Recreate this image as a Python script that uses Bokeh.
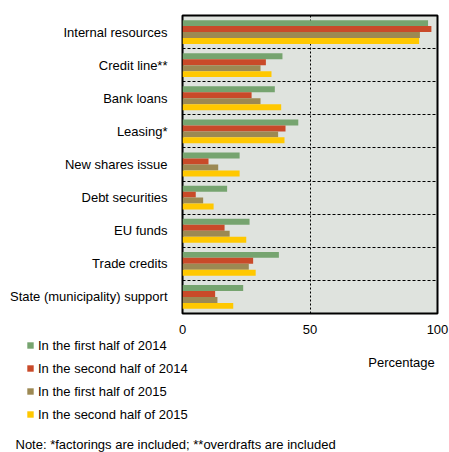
import numpy as np
from bokeh.plotting import figure
from bokeh.layouts import column
from bokeh.models import (Range1d, FixedTicker, Legend, LegendItem, Label, ColumnDataSource)
from bokeh.embed import file_html
from bokeh.resources import INLINE

categories = ["Internal resources", "Credit line**", "Bank loans", "Leasing*",
              "New shares issue", "Debt securities", "EU funds", "Trade credits",
              "State (municipality) support"]
series_names = ["In the first half of 2014", "In the second half of 2014",
                "In the first half of 2015", "In the second half of 2015"]
h1_2014 = [96.3, 39.2, 36.2, 45.4, 22.4, 17.5, 26.3, 37.8, 23.8]
h2_2014 = [97.6, 32.7, 27.1, 40.4, 10.2, 5.2, 16.5, 27.7, 12.8]
h1_2015 = [93.1, 30.6, 30.6, 37.5, 14.0, 8.1, 18.5, 26.0, 13.7]
h2_2015 = [92.8, 34.9, 38.7, 40.0, 22.4, 12.2, 25.0, 28.7, 19.9]
colors = ["#76a46f", "#c94a29", "#9c8953", "#ffc800"]
x_ticks = [0, 50, 100]

FONT = "Liberation Sans"
W = 449
H1, H2 = 339, 113
n = len(categories)
ypos = np.arange(n)[::-1].astype(float)  # first category at top
all_series = [h1_2014, h2_2014, h1_2015, h2_2015]
bh = 0.18
offsets = [1.5 * bh, 0.5 * bh, -0.5 * bh, -1.5 * bh]

# ---------------- main chart ----------------
p = figure(width=W, height=H1, output_backend="svg", toolbar_location=None,
           x_range=Range1d(0, 100), y_range=Range1d(-0.5, n - 0.5),
           min_border_left=182, min_border_right=12, min_border_top=15,
           min_border_bottom=26)
p.background_fill_color = "#dfe3de"
p.border_fill_color = "white"
p.outline_line_color = "black"
p.outline_line_width = 2

for vals, col, off in zip(all_series, colors, offsets):
    src = ColumnDataSource(dict(y=ypos + off, right=vals))
    p.hbar(y="y", left=0, right="right", height=bh, source=src,
           fill_color=col, line_color=None)

p.xaxis.ticker = FixedTicker(ticks=x_ticks)
p.yaxis.ticker = FixedTicker(ticks=list(ypos))
p.yaxis.major_label_overrides = {float(y): c for y, c in zip(ypos, categories)}
for ax in (p.xaxis[0], p.yaxis[0]):
    ax.axis_line_color = None
    ax.major_tick_line_color = None
    ax.minor_tick_line_color = None
    ax.major_tick_out = 0
    ax.major_tick_in = 0
    ax.major_label_text_font = FONT
    ax.major_label_text_font_size = "13px"
    ax.major_label_text_color = "black"
p.xaxis.major_label_standoff = 11
p.yaxis.major_label_standoff = 15

p.xgrid.ticker = FixedTicker(ticks=[50])
p.xgrid.grid_line_color = "black"
p.xgrid.grid_line_dash = "2 2"
p.xgrid.grid_line_width = 1
p.ygrid.ticker = FixedTicker(ticks=[float(i) + 0.5 for i in range(n - 1)])
p.ygrid.grid_line_color = "black"
p.ygrid.grid_line_dash = "3 2"
p.ygrid.grid_line_width = 1

# ---------------- legend / notes panel ----------------
q = figure(width=W, height=H2, output_backend="svg", toolbar_location=None,
           x_range=Range1d(0, 1), y_range=Range1d(0, 1),
           x_axis_location=None, y_axis_location=None,
           min_border_left=0, min_border_right=0, min_border_top=0, min_border_bottom=0)
q.outline_line_color = None
q.background_fill_color = "white"
q.border_fill_color = "white"
q.grid.visible = False
for fig in (p, q):
    if "frame_align" in fig.properties():
        fig.frame_align = False

proxies = []
for vals, col, off in zip(all_series, colors, offsets):
    src = ColumnDataSource(dict(y=ypos + off, right=vals))
    r = q.hbar(y="y", left=0, right="right", height=bh, source=src,
               fill_color=col, line_color=None, visible=False)
    proxies.append(r)

legend = Legend(items=[LegendItem(label=s, renderers=[r]) for s, r in zip(series_names, proxies)],
                location=(26, 28), orientation="vertical",
                glyph_width=8, glyph_height=8, label_standoff=4,
                label_height=20, spacing=3, padding=0, margin=0,
                border_line_color=None, background_fill_alpha=0,
                inactive_fill_alpha=0, click_policy="none",
                label_text_font=FONT, label_text_font_size="13px",
                label_text_color="black")
q.add_layout(legend, "center")

q.add_layout(Label(x=401, y=90, x_units="screen", y_units="screen", text="Percentage",
                   text_font=FONT, text_font_size="13px", text_align="center",
                   text_baseline="middle", text_color="black"))
q.add_layout(Label(x=15, y=8, x_units="screen", y_units="screen",
                   text="Note: *factorings are included; **overdrafts are included",
                   text_font=FONT, text_font_size="13px", text_align="left",
                   text_baseline="alphabetic", text_color="black"))

layout = column(p, q, spacing=0)
open("out.html", "w").write(file_html(layout, INLINE))
